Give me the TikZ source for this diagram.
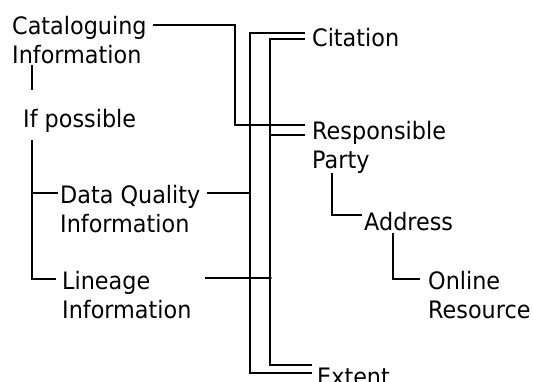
\documentclass[tikz,border=0pt]{standalone}
\usepackage{fontspec}
\setmainfont{DejaVu Sans}[FakeStretch=0.93]
\begin{document}
\begin{tikzpicture}[x=1pt,y=-1pt,
  lbl/.style={anchor=base west, inner sep=0pt, align=left, font=\fontsize{24}{29}\selectfont},
  conn/.style={line width=1.6pt, line join=miter},
  jdot/.style={circle, fill=black, inner sep=0pt, minimum size=3.6pt}]
\useasboundingbox (0,0) rectangle (533,381);
% labels (base anchor = baseline of the last line)
\node[lbl] (cat)  at (12,63)  {Cataloguing\\Information};
\node[lbl] (ifp)  at (23,127) {If possible};
\node[lbl] (dq)   at (60,232) {Data Quality\\Information};
\node[lbl] (lin)  at (62,318) {Lineage\\Information};
\node[lbl] (cit)  at (312,46) {Citation};
\node[lbl] (resp) at (312,168) {Responsible\\Party};
\node[lbl] (addr) at (364,230) {Address};
\node[lbl] (onl)  at (428,318) {Online\\Resource};
\node[lbl] (ext)  at (317,385) {Extent};
% connector points
\coordinate (catR) at (153,25);
\coordinate (catV) at (235,125);
\coordinate (respA) at (305,125);
\coordinate (respB) at (305,135);
\coordinate (citA) at (305,33);
\coordinate (citB) at (305,39);
\coordinate (extA) at (312,373);
\coordinate (extB) at (312,365);
\coordinate (outerT) at (250,33);
\coordinate (innerT) at (270,39);
\coordinate (infoB) at (32,65);
\coordinate (ifpT) at (32,90);
\coordinate (ifpB) at (32,140);
\coordinate (dqL) at (58,193);
\coordinate (linL) at (56,279);
\coordinate (dqR) at (207,193);
\coordinate (dqJ) at (250,193);
\coordinate (linR) at (205,278);
\coordinate (linJ) at (270,278);
\coordinate (partyB) at (332,173);
\coordinate (addrL) at (362,215);
\coordinate (addrB) at (393,233);
\coordinate (onlL) at (420,279);
% connectors
\draw[conn] (catR) -| (catV) -- (respA);
\draw[conn] (citA) -- (outerT) |- (extA);
\draw[conn] (citB) -- (innerT) |- (extB);
\draw[conn] (270,135) -- (respB);
\draw[conn] (infoB) -- (ifpT);
\draw[conn] (ifpB) |- (linL);
\draw[conn] (32,193) -- (dqL);
\draw[conn] (dqR) -- (dqJ);
\draw[conn] (linR) -- (linJ);
\draw[conn] (partyB) |- (addrL);
\draw[conn] (addrB) |- (onlL);
% junction dots
\node[jdot] (j1) at (250,125) {};
\node[jdot] (j2) at (270,125) {};
\node[jdot] (j3) at (250,278) {};
\node[jdot] (j4) at (270,278) {};
\end{tikzpicture}
\end{document}
